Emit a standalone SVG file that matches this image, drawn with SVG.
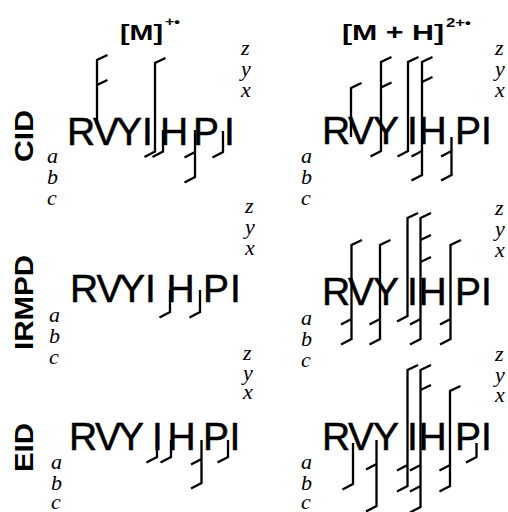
<svg xmlns="http://www.w3.org/2000/svg" width="508" height="512" viewBox="0 0 508 512">
<style>
.hdr{font-family:"Liberation Sans",Arial,sans-serif;font-weight:bold;font-size:22.5px;fill:#000}
.sup{font-family:"Liberation Sans",Arial,sans-serif;font-weight:bold;font-size:13px;fill:#000}
.row{font-family:"Liberation Sans",Arial,sans-serif;font-weight:bold;font-size:25.5px;fill:#000}
.seq{font-family:"Liberation Sans",Arial,sans-serif;font-size:39px;fill:#000;stroke:#000;stroke-width:0.5}
.ion{font-family:"Liberation Serif","Times New Roman",serif;font-style:italic;font-size:22px;fill:#000}
.frag{fill:none;stroke:#000;stroke-width:2.3;stroke-linejoin:miter;stroke-linecap:butt}
</style>
<rect width="508" height="512" fill="#fff"/>
<g id="headers">
<text class="hdr" x="120" y="40" textLength="43" lengthAdjust="spacingAndGlyphs">[M]</text>
<text class="sup" x="165" y="26" textLength="15" lengthAdjust="spacingAndGlyphs">+•</text>
<text class="hdr" x="342" y="40" textLength="102" lengthAdjust="spacingAndGlyphs">[M + H]</text>
<text class="sup" x="446" y="27" textLength="25" lengthAdjust="spacingAndGlyphs">2+•</text>
</g>
<g id="row-labels">
<text class="row" transform="translate(33,162) rotate(-90)" x="0" y="0" textLength="52" lengthAdjust="spacingAndGlyphs">CID</text>
<text class="row" transform="translate(33,350) rotate(-90)" x="0" y="0" textLength="95" lengthAdjust="spacingAndGlyphs">IRMPD</text>
<text class="row" transform="translate(33,472) rotate(-90)" x="0" y="0" textLength="49" lengthAdjust="spacingAndGlyphs">EID</text>
</g>
<g id="panel-cid-m">
<text class="seq" x="67 93 116 142 160 193 224" y="145">RVYIHPI</text>
<text class="ion" x="241" y="55">z</text><text class="ion" x="241" y="76">y</text><text class="ion" x="241" y="97">x</text>
<text class="ion" x="47" y="163">a</text><text class="ion" x="47" y="184">b</text><text class="ion" x="47" y="205">c</text>
</g>
<g id="panel-cid-mh">
<text class="seq" x="322 348 373 407 418.5 455 481" y="144">RVYIHPI</text>
<text class="ion" x="495" y="55">z</text><text class="ion" x="495" y="76">y</text><text class="ion" x="495" y="97">x</text>
<text class="ion" x="301" y="163">a</text><text class="ion" x="301" y="184">b</text><text class="ion" x="301" y="205">c</text>
</g>
<g id="panel-irmpd-m">
<text class="seq" x="70 96.5 119 145 166.5 203 230" y="302">RVYIHPI</text>
<text class="ion" x="245" y="213">z</text><text class="ion" x="245" y="234">y</text><text class="ion" x="245" y="255">x</text>
<text class="ion" x="49" y="322">a</text><text class="ion" x="49" y="343">b</text><text class="ion" x="49" y="364">c</text>
</g>
<g id="panel-irmpd-mh">
<text class="seq" x="322 348 373 407 418.5 455 481" y="305">RVYIHPI</text>
<text class="ion" x="495" y="215">z</text><text class="ion" x="495" y="236">y</text><text class="ion" x="495" y="257">x</text>
<text class="ion" x="301" y="325">a</text><text class="ion" x="301" y="346">b</text><text class="ion" x="301" y="367">c</text>
</g>
<g id="panel-eid-m">
<text class="seq" x="69 95 118 152 167.5 203 229.5" y="450">RVYIHPI</text>
<text class="ion" x="243" y="360">z</text><text class="ion" x="243" y="380">y</text><text class="ion" x="243" y="399">x</text>
<text class="ion" x="51" y="469">a</text><text class="ion" x="51" y="490">b</text><text class="ion" x="51" y="509">c</text>
</g>
<g id="panel-eid-mh">
<text class="seq" x="322 348 373 407 418.5 455 481" y="450">RVYIHPI</text>
<text class="ion" x="495" y="361">z</text><text class="ion" x="495" y="382">y</text><text class="ion" x="495" y="402">x</text>
<text class="ion" x="301" y="469">a</text><text class="ion" x="301" y="490">b</text><text class="ion" x="301" y="509">c</text>
</g>
<g id="connectors" class="frag">
<path d="M107.5 55L97 60V125M97 85l10.5-5"/>
<path d="M165.5 58L155 63V151.5l-10.5 5.5"/>
<path d="M163 130V151.5l-10.5 5.5"/>
<path d="M195 130V177l-10.5 5.5M195 152l-10.5 5.5"/>
<path d="M223 131V152l-10.5 5.5"/>
<path d="M361.5 83L351 88V137"/>
<path d="M391.5 57L381 62V151l-10.5 5.5M381 87.5l10.5-5"/>
<path d="M418.5 57L408 62V151l-10.5 5.5"/>
<path d="M432.5 57L422 62V175l-10.5 5.5M422 82l10.5-5M422 151l-10.5 5.5"/>
<path d="M451.5 137V175l-10.5 5.5M451.5 151l-10.5 5.5"/>
<path d="M170 290V312l-10.5 5.5"/>
<path d="M200 290V312l-10.5 5.5"/>
<path d="M362 240L351.5 245V339l-10.5 5.5M351.5 319l-10.5 5.5"/>
<path d="M390.5 240L380 245V339l-10.5 5.5M380 319l-10.5 5.5"/>
<path d="M418 213L407.5 218V316l-10.5 5.5"/>
<path d="M431 213L420.5 218V339l-10.5 5.5M420.5 240l10.5-5M420.5 262l10.5-5M420.5 319l-10.5 5.5"/>
<path d="M461 240L450.5 245V339l-10.5 5.5M450.5 319l-10.5 5.5"/>
<path d="M157 440V457l-10.5 5.5"/>
<path d="M171 440V457l-10.5 5.5"/>
<path d="M201.5 440V483l-10.5 5.5M201.5 459l-10.5 5.5"/>
<path d="M228 440V457l-10.5 5.5"/>
<path d="M353 443V484l-10.5 5.5"/>
<path d="M376.5 440V506l-10.5 5.5M376.5 464l-10.5 5.5"/>
<path d="M418 365L407.5 370V486l-10.5 5.5M407.5 465l-10.5 5.5"/>
<path d="M431 365L420.5 370V507l-10.5 5.5M420.5 390l10.5-5M420.5 465l-10.5 5.5M420.5 486l-10.5 5.5"/>
<path d="M460.5 386L450 391V486l-10.5 5.5M450 465l-10.5 5.5"/>
<path d="M476.5 443V457l-10.5 5.5"/>
</g>
</svg>
